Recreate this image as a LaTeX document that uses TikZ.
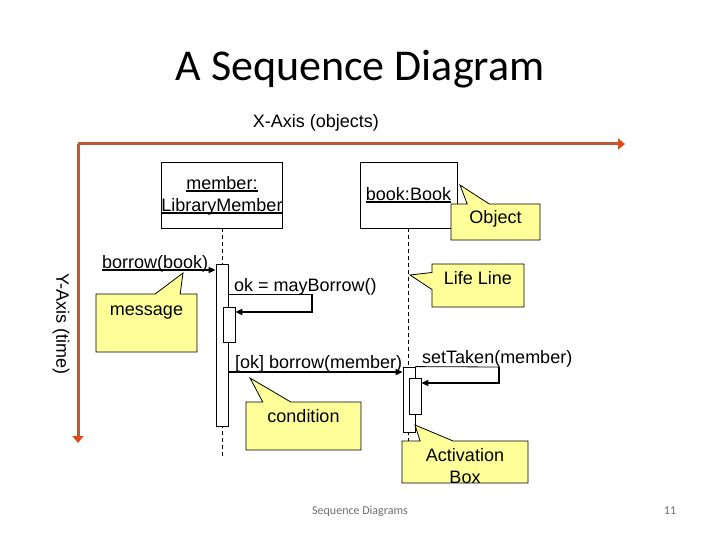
\documentclass[tikz,border=0pt]{standalone}
\usepackage{fontspec}
\setmainfont{Liberation Sans}
\newfontfamily\titlefont{Carlito}
\usetikzlibrary{positioning,arrows.meta,shapes.callouts}
\usepackage{xcolor}

\definecolor{axisline}{RGB}{192,88,56}
\definecolor{axishead}{RGB}{228,72,24}
\definecolor{notefill}{RGB}{255,255,153}
\definecolor{footgray}{RGB}{110,110,110}

% underlined object name, rule just under the baseline
\newcommand{\objul}[1]{\setbox0=\hbox{#1}\dp0=0pt\vtop{\box0\kern1.2pt\hrule height 1.6pt}}

\begin{document}
\begin{tikzpicture}[
    x=1pt, y=-1pt,
    every node/.style={font=\fontsize{18}{22}\selectfont},
    objbox/.style={draw, line width=0.8pt, inner sep=0, minimum height=66, align=center},
    actbox/.style={draw, line width=0.8pt, fill=white, inner sep=0, minimum width=12},
    note/.style={rectangle callout, draw, line width=0.8pt, fill=notefill, inner sep=0, text height=12, callout pointer width=25pt},
    msglabel/.style={anchor=base west, inner sep=0},
    msg/.style={line width=2pt, -{Triangle[length=7pt,width=6pt]}},
    lifeline/.style={line width=0.8pt, dash pattern=on 4pt off 3pt},
    axis/.style={line width=3pt, color=axisline, -{Triangle[length=7pt,width=11pt,color=axishead]}},
]
    \path[use as bounding box, fill=white] (0,0) rectangle (720,540);

    % title and axes
    \node[font=\titlefont\fontsize{44}{52}\selectfont] (title) at (360,69) {A Sequence Diagram};
    \node[anchor=base] (xlabel) at (316,128) {X-Axis (objects)};
    \node[rotate=-90] (ylabel) at (61,324) {Y-Axis (time)};
    \coordinate (origin) at (78,144);
    \coordinate (xend) at (625,144);
    \coordinate (yend) at (78,443);
    \draw[axis] (origin) -- (xend);
    \draw[axis] (origin) -- (yend);

    % objects and life lines
    \node[objbox, minimum width=120] (member) at (222,195) {\objul{member:}\\\objul{LibraryMember}};
    \node[objbox, minimum width=97] (book) at (408.5,195) {\objul{book:Book}};
    \coordinate (memberend) at (222,457);
    \coordinate (bookend) at (408.5,444);
    \draw[lifeline] (member.south) -- (memberend);
    \draw[lifeline] (book.south) -- (bookend);

    % activation boxes
    \node[actbox, minimum height=162] (memact) at (222,345) {};
    \node[actbox, minimum height=35] (memnest) at (229,324.5) {};
    \node[actbox, minimum height=65] (bookact) at (409,399.5) {};
    \node[actbox, minimum height=36] (booknest) at (415,396) {};

    % messages
    \coordinate (borrowfrom) at (102,270);
    \draw[msg] (borrowfrom) -- (memact.west |- borrowfrom);
    \node[msglabel] (borrowtxt) at (102,268) {borrow(book)};

    \coordinate (maytop) at (312,294);
    \coordinate (maybot) at (312,312);
    \draw[line width=0.8pt] (memact.east |- maytop) -- (maytop);
    \draw[msg] (maytop) -- (maybot) -- (memnest.east |- maybot);
    \node[msglabel] (maytxt) at (234,291) {ok = mayBorrow()};

    \coordinate (okrow) at (300,372);
    \draw[msg] (memact.east |- okrow) -- (bookact.west |- okrow);
    \node[msglabel] (oktxt) at (235,368) {[ok] borrow(member)};

    \coordinate (settop) at (499,367);
    \coordinate (setbot) at (499,383);
    \draw[line width=0.8pt] (bookact.north east) -- (settop);
    \draw[msg] (settop) -- (setbot) -- (booknest.east |- setbot);
    \node[msglabel] (settxt) at (422,363) {setTaken(member)};

    % callouts
    \coordinate (objtip) at (460,185);
    \coordinate (msgtip) at (183,273);
    \coordinate (lifetip) at (410,275);
    \coordinate (condtip) at (250,378);
    \coordinate (acttip) at (415,425);
    \node[note, minimum width=89, minimum height=36, text depth=9, callout pointer width=22pt, callout absolute pointer={(objtip)}] (objnote) at (495.5,222) {Object};
    \node[note, minimum width=101, minimum height=58, text depth=28, callout absolute pointer={(msgtip)}] (msgnote) at (146.5,323) {message};
    \node[note, minimum width=92, minimum height=43, text depth=14, callout pointer width=17pt, callout absolute pointer={(lifetip)}] (lifenote) at (478,285.5) {Life Line};
    \node[note, minimum width=115, minimum height=48, text depth=20, callout pointer width=28pt, callout absolute pointer={(condtip)}] (condnote) at (303.5,426) {condition};
    \node[note, minimum width=126, minimum height=36, text height=42, text depth=-6, align=center, callout pointer width=33pt, callout absolute pointer={(acttip)}] (actnote) at (465,462) {Activation\\Box};

    % footer
    \node[font=\titlefont\fontsize{12}{14}\selectfont, text=footgray] (footer) at (360,511) {Sequence Diagrams};
    \node[font=\titlefont\fontsize{12}{14}\selectfont, text=footgray] (pagenum) at (670,511) {11};
\end{tikzpicture}
\end{document}
